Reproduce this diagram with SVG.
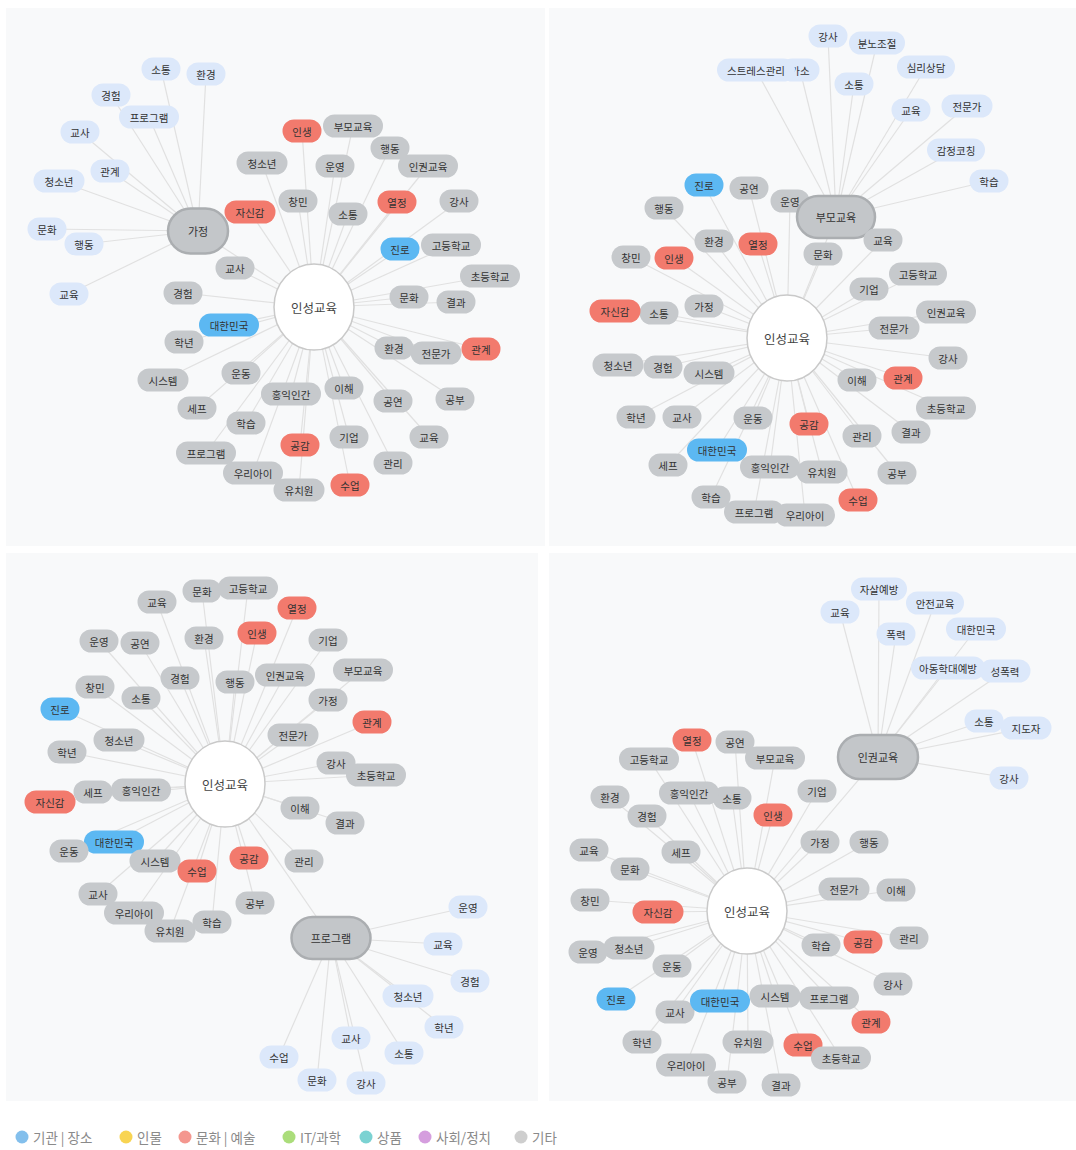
<svg xmlns="http://www.w3.org/2000/svg" width="1076" height="1150" viewBox="0 0 1076 1150">
<style>
text{font-family:"Noto Sans CJK KR","Noto Sans",sans-serif;font-size:10.5px;fill:#333;text-anchor:middle;dominant-baseline:central}
.g rect{fill:#c6c9cc}
.r rect{fill:#f27a6d}
.b rect{fill:#5cb8f2}
.l rect{fill:#dce8fa}
.h rect{fill:#c3c6c9;stroke:#abaeb1;stroke-width:2.5}
.h text{font-size:11px}
.c ellipse{fill:#fff;stroke:#c9c9c9;stroke-width:1.5}
.c text{font-size:12.5px;fill:#444}
.e line{stroke:#e1e1e1;stroke-width:1.2}
.panel{fill:#f8f9fa}
.lg text{font-size:13.5px;fill:#8a8a8a;text-anchor:start}
.lg circle{opacity:.75}
</style>
<rect width="1076" height="1150" fill="#fff"/>
<rect class="panel" x="6" y="8" width="539" height="538"/>
<rect class="panel" x="549" y="8" width="527" height="538"/>
<rect class="panel" x="6" y="553" width="532" height="548"/>
<rect class="panel" x="549" y="553" width="527" height="548"/>

<g id="connectors" class="e">
<!-- panel 1 -->
<line x1="314" y1="307" x2="302" y2="131"/><line x1="314" y1="307" x2="353" y2="126"/><line x1="314" y1="307" x2="390" y2="148"/><line x1="314" y1="307" x2="262" y2="163"/><line x1="314" y1="307" x2="335" y2="166"/><line x1="314" y1="307" x2="428" y2="166"/><line x1="314" y1="307" x2="298" y2="201"/><line x1="314" y1="307" x2="250" y2="212"/><line x1="314" y1="307" x2="348" y2="214"/><line x1="314" y1="307" x2="397" y2="202"/><line x1="314" y1="307" x2="459" y2="201"/><line x1="314" y1="307" x2="400" y2="249"/><line x1="314" y1="307" x2="451" y2="245"/><line x1="314" y1="307" x2="235" y2="268"/><line x1="314" y1="307" x2="490" y2="276"/><line x1="314" y1="307" x2="183" y2="293"/><line x1="314" y1="307" x2="409" y2="297"/><line x1="314" y1="307" x2="456" y2="302"/><line x1="314" y1="307" x2="229" y2="325"/><line x1="314" y1="307" x2="184" y2="342"/><line x1="314" y1="307" x2="394" y2="348"/><line x1="314" y1="307" x2="436" y2="353"/><line x1="314" y1="307" x2="481" y2="349"/><line x1="314" y1="307" x2="163" y2="380"/><line x1="314" y1="307" x2="241" y2="373"/><line x1="314" y1="307" x2="291" y2="394"/><line x1="314" y1="307" x2="344" y2="388"/><line x1="314" y1="307" x2="393" y2="401"/><line x1="314" y1="307" x2="455" y2="399"/><line x1="314" y1="307" x2="197" y2="408"/><line x1="314" y1="307" x2="246" y2="423"/><line x1="314" y1="307" x2="300" y2="445"/><line x1="314" y1="307" x2="349" y2="437"/><line x1="314" y1="307" x2="429" y2="437"/><line x1="314" y1="307" x2="206" y2="453"/><line x1="314" y1="307" x2="393" y2="463"/><line x1="314" y1="307" x2="253" y2="473"/><line x1="314" y1="307" x2="299" y2="490"/><line x1="314" y1="307" x2="350" y2="485"/><line x1="314" y1="307" x2="198" y2="231"/>
<line x1="198" y1="231" x2="161" y2="69"/><line x1="198" y1="231" x2="206" y2="74"/><line x1="198" y1="231" x2="111" y2="95"/><line x1="198" y1="231" x2="149" y2="117"/><line x1="198" y1="231" x2="80" y2="132"/><line x1="198" y1="231" x2="110" y2="171"/><line x1="198" y1="231" x2="59" y2="181"/><line x1="198" y1="231" x2="47" y2="229"/><line x1="198" y1="231" x2="84" y2="244"/><line x1="198" y1="231" x2="69" y2="294"/>
<!-- panel 2 -->
<line x1="787" y1="338" x2="704" y2="185"/><line x1="787" y1="338" x2="749" y2="188"/><line x1="787" y1="338" x2="790" y2="201"/><line x1="787" y1="338" x2="664" y2="208"/><line x1="787" y1="338" x2="714" y2="241"/><line x1="787" y1="338" x2="758" y2="244"/><line x1="787" y1="338" x2="883" y2="240"/><line x1="787" y1="338" x2="823" y2="254"/><line x1="787" y1="338" x2="631" y2="257"/><line x1="787" y1="338" x2="674" y2="258"/><line x1="787" y1="338" x2="918" y2="274"/><line x1="787" y1="338" x2="869" y2="289"/><line x1="787" y1="338" x2="659" y2="313"/><line x1="787" y1="338" x2="615" y2="311"/><line x1="787" y1="338" x2="704" y2="306"/><line x1="787" y1="338" x2="946" y2="312"/><line x1="787" y1="338" x2="894" y2="328"/><line x1="787" y1="338" x2="618" y2="365"/><line x1="787" y1="338" x2="663" y2="367"/><line x1="787" y1="338" x2="709" y2="373"/><line x1="787" y1="338" x2="948" y2="358"/><line x1="787" y1="338" x2="857" y2="380"/><line x1="787" y1="338" x2="903" y2="378"/><line x1="787" y1="338" x2="636" y2="417"/><line x1="787" y1="338" x2="682" y2="417"/><line x1="787" y1="338" x2="753" y2="418"/><line x1="787" y1="338" x2="809" y2="424"/><line x1="787" y1="338" x2="946" y2="408"/><line x1="787" y1="338" x2="862" y2="436"/><line x1="787" y1="338" x2="911" y2="432"/><line x1="787" y1="338" x2="717" y2="450"/><line x1="787" y1="338" x2="668" y2="465"/><line x1="787" y1="338" x2="770" y2="467"/><line x1="787" y1="338" x2="822" y2="472"/><line x1="787" y1="338" x2="897" y2="473"/><line x1="787" y1="338" x2="858" y2="500"/><line x1="787" y1="338" x2="711" y2="497"/><line x1="787" y1="338" x2="754" y2="512"/><line x1="787" y1="338" x2="805" y2="515"/><line x1="787" y1="338" x2="836" y2="217"/>
<line x1="836" y1="217" x2="828" y2="36"/><line x1="836" y1="217" x2="877" y2="43"/><line x1="836" y1="217" x2="800" y2="70"/><line x1="836" y1="217" x2="756" y2="70"/><line x1="836" y1="217" x2="854" y2="84"/><line x1="836" y1="217" x2="926" y2="67"/><line x1="836" y1="217" x2="911" y2="110"/><line x1="836" y1="217" x2="967" y2="106"/><line x1="836" y1="217" x2="956" y2="150"/><line x1="836" y1="217" x2="989" y2="181"/>
<!-- panel 3 -->
<line x1="225" y1="784" x2="157" y2="602"/><line x1="225" y1="784" x2="202" y2="591"/><line x1="225" y1="784" x2="248" y2="588"/><line x1="225" y1="784" x2="297" y2="608"/><line x1="225" y1="784" x2="99" y2="641"/><line x1="225" y1="784" x2="140" y2="643"/><line x1="225" y1="784" x2="204" y2="638"/><line x1="225" y1="784" x2="257" y2="633"/><line x1="225" y1="784" x2="328" y2="640"/><line x1="225" y1="784" x2="363" y2="670"/><line x1="225" y1="784" x2="180" y2="678"/><line x1="225" y1="784" x2="235" y2="682"/><line x1="225" y1="784" x2="285" y2="675"/><line x1="225" y1="784" x2="95" y2="687"/><line x1="225" y1="784" x2="141" y2="698"/><line x1="225" y1="784" x2="328" y2="700"/><line x1="225" y1="784" x2="60" y2="709"/><line x1="225" y1="784" x2="372" y2="722"/><line x1="225" y1="784" x2="293" y2="735"/><line x1="225" y1="784" x2="119" y2="740"/><line x1="225" y1="784" x2="67" y2="752"/><line x1="225" y1="784" x2="336" y2="763"/><line x1="225" y1="784" x2="376" y2="775"/><line x1="225" y1="784" x2="93" y2="792"/><line x1="225" y1="784" x2="141" y2="790"/><line x1="225" y1="784" x2="50" y2="802"/><line x1="225" y1="784" x2="300" y2="808"/><line x1="225" y1="784" x2="345" y2="823"/><line x1="225" y1="784" x2="69" y2="851"/><line x1="225" y1="784" x2="114" y2="842"/><line x1="225" y1="784" x2="155" y2="861"/><line x1="225" y1="784" x2="197" y2="871"/><line x1="225" y1="784" x2="249" y2="858"/><line x1="225" y1="784" x2="304" y2="861"/><line x1="225" y1="784" x2="98" y2="894"/><line x1="225" y1="784" x2="255" y2="903"/><line x1="225" y1="784" x2="134" y2="913"/><line x1="225" y1="784" x2="212" y2="922"/><line x1="225" y1="784" x2="170" y2="931"/><line x1="225" y1="784" x2="331" y2="938"/>
<line x1="331" y1="938" x2="468" y2="907"/><line x1="331" y1="938" x2="443" y2="944"/><line x1="331" y1="938" x2="470" y2="981"/><line x1="331" y1="938" x2="408" y2="996"/><line x1="331" y1="938" x2="444" y2="1027"/><line x1="331" y1="938" x2="351" y2="1038"/><line x1="331" y1="938" x2="404" y2="1053"/><line x1="331" y1="938" x2="279" y2="1057"/><line x1="331" y1="938" x2="317" y2="1080"/><line x1="331" y1="938" x2="366" y2="1083"/>
<!-- panel 4 -->
<line x1="747" y1="911" x2="692" y2="740"/><line x1="747" y1="911" x2="735" y2="742"/><line x1="747" y1="911" x2="649" y2="759"/><line x1="747" y1="911" x2="775" y2="758"/><line x1="747" y1="911" x2="610" y2="797"/><line x1="747" y1="911" x2="732" y2="798"/><line x1="747" y1="911" x2="689" y2="793"/><line x1="747" y1="911" x2="817" y2="791"/><line x1="747" y1="911" x2="647" y2="816"/><line x1="747" y1="911" x2="773" y2="815"/><line x1="747" y1="911" x2="589" y2="850"/><line x1="747" y1="911" x2="681" y2="852"/><line x1="747" y1="911" x2="820" y2="842"/><line x1="747" y1="911" x2="869" y2="842"/><line x1="747" y1="911" x2="630" y2="869"/><line x1="747" y1="911" x2="844" y2="889"/><line x1="747" y1="911" x2="896" y2="890"/><line x1="747" y1="911" x2="590" y2="900"/><line x1="747" y1="911" x2="658" y2="912"/><line x1="747" y1="911" x2="821" y2="945"/><line x1="747" y1="911" x2="863" y2="942"/><line x1="747" y1="911" x2="909" y2="938"/><line x1="747" y1="911" x2="629" y2="948"/><line x1="747" y1="911" x2="588" y2="952"/><line x1="747" y1="911" x2="672" y2="966"/><line x1="747" y1="911" x2="893" y2="984"/><line x1="747" y1="911" x2="616" y2="999"/><line x1="747" y1="911" x2="675" y2="1012"/><line x1="747" y1="911" x2="720" y2="1001"/><line x1="747" y1="911" x2="775" y2="996"/><line x1="747" y1="911" x2="829" y2="998"/><line x1="747" y1="911" x2="871" y2="1022"/><line x1="747" y1="911" x2="642" y2="1042"/><line x1="747" y1="911" x2="748" y2="1042"/><line x1="747" y1="911" x2="803" y2="1045"/><line x1="747" y1="911" x2="841" y2="1058"/><line x1="747" y1="911" x2="686" y2="1065"/><line x1="747" y1="911" x2="727" y2="1082"/><line x1="747" y1="911" x2="781" y2="1085"/><line x1="747" y1="911" x2="878" y2="757"/>
<line x1="878" y1="757" x2="879" y2="589"/><line x1="878" y1="757" x2="840" y2="612"/><line x1="878" y1="757" x2="935" y2="603"/><line x1="878" y1="757" x2="896" y2="634"/><line x1="878" y1="757" x2="976" y2="629"/><line x1="878" y1="757" x2="948" y2="668"/><line x1="878" y1="757" x2="1005" y2="671"/><line x1="878" y1="757" x2="984" y2="721"/><line x1="878" y1="757" x2="1026" y2="728"/><line x1="878" y1="757" x2="1009" y2="778"/>
</g>

<!-- ===== Panel 1 nodes ===== -->
<g id="p1-nodes">
<g id="p1-s1" class="l"><rect x="141.5" y="57.5" width="39" height="23" rx="11.5"/><text x="161" y="69">소통</text></g>
<g id="p1-s2" class="l"><rect x="186.5" y="62.5" width="39" height="23" rx="11.5"/><text x="206" y="74">환경</text></g>
<g id="p1-s3" class="l"><rect x="91.5" y="83.5" width="39" height="23" rx="11.5"/><text x="111" y="95">경험</text></g>
<g id="p1-s4" class="l"><rect x="119" y="105.5" width="60" height="23" rx="11.5"/><text x="149" y="117">프로그램</text></g>
<g id="p1-s5" class="l"><rect x="60.5" y="120.5" width="39" height="23" rx="11.5"/><text x="80" y="132">교사</text></g>
<g id="p1-s6" class="l"><rect x="90.5" y="159.5" width="39" height="23" rx="11.5"/><text x="110" y="171">관계</text></g>
<g id="p1-s7" class="l"><rect x="33.5" y="169.5" width="51" height="23" rx="11.5"/><text x="59" y="181">청소년</text></g>
<g id="p1-s8" class="l"><rect x="27.5" y="217.5" width="39" height="23" rx="11.5"/><text x="47" y="229">문화</text></g>
<g id="p1-s9" class="l"><rect x="64.5" y="232.5" width="39" height="23" rx="11.5"/><text x="84" y="244">행동</text></g>
<g id="p1-s10" class="l"><rect x="49.5" y="282.5" width="39" height="23" rx="11.5"/><text x="69" y="294">교육</text></g>
<g id="p1-hub" class="h"><rect x="168" y="208.5" width="60" height="45" rx="22.5"/><text x="198" y="231">가정</text></g>
<g id="p1-n1" class="r"><rect x="282.5" y="119.5" width="39" height="23" rx="11.5"/><text x="302" y="131">인생</text></g>
<g id="p1-n2" class="g"><rect x="323" y="114.5" width="60" height="23" rx="11.5"/><text x="353" y="126">부모교육</text></g>
<g id="p1-n3" class="g"><rect x="370.5" y="136.5" width="39" height="23" rx="11.5"/><text x="390" y="148">행동</text></g>
<g id="p1-n4" class="g"><rect x="236.5" y="151.5" width="51" height="23" rx="11.5"/><text x="262" y="163">청소년</text></g>
<g id="p1-n5" class="g"><rect x="315.5" y="154.5" width="39" height="23" rx="11.5"/><text x="335" y="166">운영</text></g>
<g id="p1-n6" class="g"><rect x="398" y="154.5" width="60" height="23" rx="11.5"/><text x="428" y="166">인권교육</text></g>
<g id="p1-n7" class="g"><rect x="278.5" y="189.5" width="39" height="23" rx="11.5"/><text x="298" y="201">창민</text></g>
<g id="p1-n8" class="r"><rect x="224.5" y="200.5" width="51" height="23" rx="11.5"/><text x="250" y="212">자신감</text></g>
<g id="p1-n9" class="g"><rect x="328.5" y="202.5" width="39" height="23" rx="11.5"/><text x="348" y="214">소통</text></g>
<g id="p1-n10" class="r"><rect x="377.5" y="190.5" width="39" height="23" rx="11.5"/><text x="397" y="202">열정</text></g>
<g id="p1-n11" class="g"><rect x="439.5" y="189.5" width="39" height="23" rx="11.5"/><text x="459" y="201">강사</text></g>
<g id="p1-n12" class="b"><rect x="380.5" y="237.5" width="39" height="23" rx="11.5"/><text x="400" y="249">진로</text></g>
<g id="p1-n13" class="g"><rect x="421" y="233.5" width="60" height="23" rx="11.5"/><text x="451" y="245">고등학교</text></g>
<g id="p1-n14" class="g"><rect x="215.5" y="256.5" width="39" height="23" rx="11.5"/><text x="235" y="268">교사</text></g>
<g id="p1-n15" class="g"><rect x="460" y="264.5" width="60" height="23" rx="11.5"/><text x="490" y="276">초등학교</text></g>
<g id="p1-n16" class="g"><rect x="163.5" y="281.5" width="39" height="23" rx="11.5"/><text x="183" y="293">경험</text></g>
<g id="p1-n17" class="g"><rect x="389.5" y="285.5" width="39" height="23" rx="11.5"/><text x="409" y="297">문화</text></g>
<g id="p1-n18" class="g"><rect x="436.5" y="290.5" width="39" height="23" rx="11.5"/><text x="456" y="302">결과</text></g>
<g id="p1-n19" class="b"><rect x="199" y="313.5" width="60" height="23" rx="11.5"/><text x="229" y="325">대한민국</text></g>
<g id="p1-n20" class="g"><rect x="164.5" y="330.5" width="39" height="23" rx="11.5"/><text x="184" y="342">학년</text></g>
<g id="p1-n21" class="g"><rect x="374.5" y="336.5" width="39" height="23" rx="11.5"/><text x="394" y="348">환경</text></g>
<g id="p1-n22" class="g"><rect x="410.5" y="341.5" width="51" height="23" rx="11.5"/><text x="436" y="353">전문가</text></g>
<g id="p1-n23" class="r"><rect x="461.5" y="337.5" width="39" height="23" rx="11.5"/><text x="481" y="349">관계</text></g>
<g id="p1-n24" class="g"><rect x="137.5" y="368.5" width="51" height="23" rx="11.5"/><text x="163" y="380">시스템</text></g>
<g id="p1-n25" class="g"><rect x="221.5" y="361.5" width="39" height="23" rx="11.5"/><text x="241" y="373">운동</text></g>
<g id="p1-n26" class="g"><rect x="261" y="382.5" width="60" height="23" rx="11.5"/><text x="291" y="394">홍익인간</text></g>
<g id="p1-n27" class="g"><rect x="324.5" y="376.5" width="39" height="23" rx="11.5"/><text x="344" y="388">이해</text></g>
<g id="p1-n28" class="g"><rect x="373.5" y="389.5" width="39" height="23" rx="11.5"/><text x="393" y="401">공연</text></g>
<g id="p1-n29" class="g"><rect x="435.5" y="387.5" width="39" height="23" rx="11.5"/><text x="455" y="399">공부</text></g>
<g id="p1-n30" class="g"><rect x="177.5" y="396.5" width="39" height="23" rx="11.5"/><text x="197" y="408">세프</text></g>
<g id="p1-n31" class="g"><rect x="226.5" y="411.5" width="39" height="23" rx="11.5"/><text x="246" y="423">학습</text></g>
<g id="p1-n32" class="r"><rect x="280.5" y="433.5" width="39" height="23" rx="11.5"/><text x="300" y="445">공감</text></g>
<g id="p1-n33" class="g"><rect x="329.5" y="425.5" width="39" height="23" rx="11.5"/><text x="349" y="437">기업</text></g>
<g id="p1-n34" class="g"><rect x="409.5" y="425.5" width="39" height="23" rx="11.5"/><text x="429" y="437">교육</text></g>
<g id="p1-n35" class="g"><rect x="176" y="441.5" width="60" height="23" rx="11.5"/><text x="206" y="453">프로그램</text></g>
<g id="p1-n36" class="g"><rect x="373.5" y="451.5" width="39" height="23" rx="11.5"/><text x="393" y="463">관리</text></g>
<g id="p1-n37" class="g"><rect x="223" y="461.5" width="60" height="23" rx="11.5"/><text x="253" y="473">우리아이</text></g>
<g id="p1-n38" class="g"><rect x="273.5" y="478.5" width="51" height="23" rx="11.5"/><text x="299" y="490">유치원</text></g>
<g id="p1-n39" class="r"><rect x="330.5" y="473.5" width="39" height="23" rx="11.5"/><text x="350" y="485">수업</text></g>
<g id="p1-center" class="c"><ellipse cx="314" cy="307" rx="40" ry="43"/><text x="314" y="307">인성교육</text></g>
</g>

<!-- ===== Panel 2 nodes ===== -->
<g id="p2-nodes">
<g id="p2-s1" class="l"><rect x="808.5" y="24.5" width="39" height="23" rx="11.5"/><text x="828" y="36">강사</text></g>
<g id="p2-s2" class="l"><rect x="849" y="31.5" width="56" height="23" rx="11.5"/><text x="877" y="43">분노조절</text></g>
<g id="p2-s3" class="l"><rect x="780.5" y="58.5" width="39" height="23" rx="11.5"/><text x="800" y="70">가소</text></g>
<g id="p2-s4" class="l"><rect x="717" y="58.5" width="78" height="23" rx="11.5"/><text x="756" y="70">스트레스관리</text></g>
<g id="p2-s5" class="l"><rect x="834.5" y="72.5" width="39" height="23" rx="11.5"/><text x="854" y="84">소통</text></g>
<g id="p2-s6" class="l"><rect x="897" y="55.5" width="58" height="23" rx="11.5"/><text x="926" y="67">심리상담</text></g>
<g id="p2-s7" class="l"><rect x="891.5" y="98.5" width="39" height="23" rx="11.5"/><text x="911" y="110">교육</text></g>
<g id="p2-s8" class="l"><rect x="941.5" y="94.5" width="51" height="23" rx="11.5"/><text x="967" y="106">전문가</text></g>
<g id="p2-s9" class="l"><rect x="927" y="138.5" width="58" height="23" rx="11.5"/><text x="956" y="150">감정코칭</text></g>
<g id="p2-s10" class="l"><rect x="969.5" y="169.5" width="39" height="23" rx="11.5"/><text x="989" y="181">학습</text></g>
<g id="p2-n1" class="b"><rect x="684.5" y="173.5" width="39" height="23" rx="11.5"/><text x="704" y="185">진로</text></g>
<g id="p2-n2" class="g"><rect x="729.5" y="176.5" width="39" height="23" rx="11.5"/><text x="749" y="188">공연</text></g>
<g id="p2-n3" class="g"><rect x="770.5" y="189.5" width="39" height="23" rx="11.5"/><text x="790" y="201">운영</text></g>
<g id="p2-hub" class="h"><rect x="797" y="196" width="78" height="42" rx="21"/><text x="836" y="217">부모교육</text></g>
<g id="p2-n4" class="g"><rect x="644.5" y="196.5" width="39" height="23" rx="11.5"/><text x="664" y="208">행동</text></g>
<g id="p2-n5" class="g"><rect x="694.5" y="229.5" width="39" height="23" rx="11.5"/><text x="714" y="241">환경</text></g>
<g id="p2-n6" class="r"><rect x="738.5" y="232.5" width="39" height="23" rx="11.5"/><text x="758" y="244">열정</text></g>
<g id="p2-n7" class="g"><rect x="863.5" y="228.5" width="39" height="23" rx="11.5"/><text x="883" y="240">교육</text></g>
<g id="p2-n8" class="g"><rect x="803.5" y="242.5" width="39" height="23" rx="11.5"/><text x="823" y="254">문화</text></g>
<g id="p2-n9" class="g"><rect x="611.5" y="245.5" width="39" height="23" rx="11.5"/><text x="631" y="257">창민</text></g>
<g id="p2-n10" class="r"><rect x="654.5" y="246.5" width="39" height="23" rx="11.5"/><text x="674" y="258">인생</text></g>
<g id="p2-n11" class="g"><rect x="889" y="262.5" width="58" height="23" rx="11.5"/><text x="918" y="274">고등학교</text></g>
<g id="p2-n12" class="g"><rect x="849.5" y="277.5" width="39" height="23" rx="11.5"/><text x="869" y="289">기업</text></g>
<g id="p2-n13" class="g"><rect x="639.5" y="301.5" width="39" height="23" rx="11.5"/><text x="659" y="313">소통</text></g>
<g id="p2-n14" class="r"><rect x="589.5" y="299.5" width="51" height="23" rx="11.5"/><text x="615" y="311">자신감</text></g>
<g id="p2-n15" class="g"><rect x="684.5" y="294.5" width="39" height="23" rx="11.5"/><text x="704" y="306">가정</text></g>
<g id="p2-n16" class="g"><rect x="916" y="300.5" width="60" height="23" rx="11.5"/><text x="946" y="312">인권교육</text></g>
<g id="p2-n17" class="g"><rect x="868.5" y="316.5" width="51" height="23" rx="11.5"/><text x="894" y="328">전문가</text></g>
<g id="p2-n18" class="g"><rect x="592.5" y="353.5" width="51" height="23" rx="11.5"/><text x="618" y="365">청소년</text></g>
<g id="p2-n19" class="g"><rect x="643.5" y="355.5" width="39" height="23" rx="11.5"/><text x="663" y="367">경험</text></g>
<g id="p2-n20" class="g"><rect x="683.5" y="361.5" width="51" height="23" rx="11.5"/><text x="709" y="373">시스템</text></g>
<g id="p2-n21" class="g"><rect x="928.5" y="346.5" width="39" height="23" rx="11.5"/><text x="948" y="358">강사</text></g>
<g id="p2-n22" class="g"><rect x="837.5" y="368.5" width="39" height="23" rx="11.5"/><text x="857" y="380">이해</text></g>
<g id="p2-n23" class="r"><rect x="883.5" y="366.5" width="39" height="23" rx="11.5"/><text x="903" y="378">관계</text></g>
<g id="p2-n24" class="g"><rect x="616.5" y="405.5" width="39" height="23" rx="11.5"/><text x="636" y="417">학년</text></g>
<g id="p2-n25" class="g"><rect x="662.5" y="405.5" width="39" height="23" rx="11.5"/><text x="682" y="417">교사</text></g>
<g id="p2-n26" class="g"><rect x="733.5" y="406.5" width="39" height="23" rx="11.5"/><text x="753" y="418">운동</text></g>
<g id="p2-n27" class="r"><rect x="789.5" y="412.5" width="39" height="23" rx="11.5"/><text x="809" y="424">공감</text></g>
<g id="p2-n28" class="g"><rect x="916" y="396.5" width="60" height="23" rx="11.5"/><text x="946" y="408">초등학교</text></g>
<g id="p2-n29" class="g"><rect x="842.5" y="424.5" width="39" height="23" rx="11.5"/><text x="862" y="436">관리</text></g>
<g id="p2-n30" class="g"><rect x="891.5" y="420.5" width="39" height="23" rx="11.5"/><text x="911" y="432">결과</text></g>
<g id="p2-n31" class="b"><rect x="687" y="438.5" width="60" height="23" rx="11.5"/><text x="717" y="450">대한민국</text></g>
<g id="p2-n32" class="g"><rect x="648.5" y="453.5" width="39" height="23" rx="11.5"/><text x="668" y="465">세프</text></g>
<g id="p2-n33" class="g"><rect x="740" y="455.5" width="60" height="23" rx="11.5"/><text x="770" y="467">홍익인간</text></g>
<g id="p2-n34" class="g"><rect x="796.5" y="460.5" width="51" height="23" rx="11.5"/><text x="822" y="472">유치원</text></g>
<g id="p2-n35" class="g"><rect x="877.5" y="461.5" width="39" height="23" rx="11.5"/><text x="897" y="473">공부</text></g>
<g id="p2-n36" class="r"><rect x="838.5" y="488.5" width="39" height="23" rx="11.5"/><text x="858" y="500">수업</text></g>
<g id="p2-n37" class="g"><rect x="691.5" y="485.5" width="39" height="23" rx="11.5"/><text x="711" y="497">학습</text></g>
<g id="p2-n38" class="g"><rect x="724" y="500.5" width="60" height="23" rx="11.5"/><text x="754" y="512">프로그램</text></g>
<g id="p2-n39" class="g"><rect x="775" y="503.5" width="60" height="23" rx="11.5"/><text x="805" y="515">우리아이</text></g>
<g id="p2-center" class="c"><ellipse cx="787" cy="338" rx="40" ry="43"/><text x="787" y="338">인성교육</text></g>
</g>

<!-- ===== Panel 3 nodes ===== -->
<g id="p3-nodes">
<g id="p3-n1" class="g"><rect x="137.5" y="590.5" width="39" height="23" rx="11.5"/><text x="157" y="602">교육</text></g>
<g id="p3-n2" class="g"><rect x="182.5" y="579.5" width="39" height="23" rx="11.5"/><text x="202" y="591">문화</text></g>
<g id="p3-n3" class="g"><rect x="218" y="576.5" width="60" height="23" rx="11.5"/><text x="248" y="588">고등학교</text></g>
<g id="p3-n4" class="r"><rect x="277.5" y="596.5" width="39" height="23" rx="11.5"/><text x="297" y="608">열정</text></g>
<g id="p3-n5" class="g"><rect x="79.5" y="629.5" width="39" height="23" rx="11.5"/><text x="99" y="641">운영</text></g>
<g id="p3-n6" class="g"><rect x="120.5" y="631.5" width="39" height="23" rx="11.5"/><text x="140" y="643">공연</text></g>
<g id="p3-n7" class="g"><rect x="184.5" y="626.5" width="39" height="23" rx="11.5"/><text x="204" y="638">환경</text></g>
<g id="p3-n8" class="r"><rect x="237.5" y="621.5" width="39" height="23" rx="11.5"/><text x="257" y="633">인생</text></g>
<g id="p3-n9" class="g"><rect x="308.5" y="628.5" width="39" height="23" rx="11.5"/><text x="328" y="640">기업</text></g>
<g id="p3-n10" class="g"><rect x="333" y="658.5" width="60" height="23" rx="11.5"/><text x="363" y="670">부모교육</text></g>
<g id="p3-n11" class="g"><rect x="160.5" y="666.5" width="39" height="23" rx="11.5"/><text x="180" y="678">경험</text></g>
<g id="p3-n12" class="g"><rect x="215.5" y="670.5" width="39" height="23" rx="11.5"/><text x="235" y="682">행동</text></g>
<g id="p3-n13" class="g"><rect x="255" y="663.5" width="60" height="23" rx="11.5"/><text x="285" y="675">인권교육</text></g>
<g id="p3-n14" class="g"><rect x="75.5" y="675.5" width="39" height="23" rx="11.5"/><text x="95" y="687">창민</text></g>
<g id="p3-n15" class="g"><rect x="121.5" y="686.5" width="39" height="23" rx="11.5"/><text x="141" y="698">소통</text></g>
<g id="p3-n16" class="g"><rect x="308.5" y="688.5" width="39" height="23" rx="11.5"/><text x="328" y="700">가정</text></g>
<g id="p3-n17" class="b"><rect x="40.5" y="697.5" width="39" height="23" rx="11.5"/><text x="60" y="709">진로</text></g>
<g id="p3-n18" class="r"><rect x="352.5" y="710.5" width="39" height="23" rx="11.5"/><text x="372" y="722">관계</text></g>
<g id="p3-n19" class="g"><rect x="267.5" y="723.5" width="51" height="23" rx="11.5"/><text x="293" y="735">전문가</text></g>
<g id="p3-n20" class="g"><rect x="93.5" y="728.5" width="51" height="23" rx="11.5"/><text x="119" y="740">청소년</text></g>
<g id="p3-n21" class="g"><rect x="47.5" y="740.5" width="39" height="23" rx="11.5"/><text x="67" y="752">학년</text></g>
<g id="p3-n22" class="g"><rect x="316.5" y="751.5" width="39" height="23" rx="11.5"/><text x="336" y="763">강사</text></g>
<g id="p3-n23" class="g"><rect x="346" y="763.5" width="60" height="23" rx="11.5"/><text x="376" y="775">초등학교</text></g>
<g id="p3-n24" class="g"><rect x="73.5" y="780.5" width="39" height="23" rx="11.5"/><text x="93" y="792">세프</text></g>
<g id="p3-n25" class="g"><rect x="111" y="778.5" width="60" height="23" rx="11.5"/><text x="141" y="790">홍익인간</text></g>
<g id="p3-n26" class="r"><rect x="24.5" y="790.5" width="51" height="23" rx="11.5"/><text x="50" y="802">자신감</text></g>
<g id="p3-n27" class="g"><rect x="280.5" y="796.5" width="39" height="23" rx="11.5"/><text x="300" y="808">이해</text></g>
<g id="p3-n28" class="g"><rect x="325.5" y="811.5" width="39" height="23" rx="11.5"/><text x="345" y="823">결과</text></g>
<g id="p3-n29" class="b"><rect x="84" y="830.5" width="60" height="23" rx="11.5"/><text x="114" y="842">대한민국</text></g>
<g id="p3-n30" class="g"><rect x="49.5" y="839.5" width="39" height="23" rx="11.5"/><text x="69" y="851">운동</text></g>
<g id="p3-n31" class="g"><rect x="129.5" y="849.5" width="51" height="23" rx="11.5"/><text x="155" y="861">시스템</text></g>
<g id="p3-n32" class="r"><rect x="177.5" y="859.5" width="39" height="23" rx="11.5"/><text x="197" y="871">수업</text></g>
<g id="p3-n33" class="r"><rect x="229.5" y="846.5" width="39" height="23" rx="11.5"/><text x="249" y="858">공감</text></g>
<g id="p3-n34" class="g"><rect x="284.5" y="849.5" width="39" height="23" rx="11.5"/><text x="304" y="861">관리</text></g>
<g id="p3-n35" class="g"><rect x="78.5" y="882.5" width="39" height="23" rx="11.5"/><text x="98" y="894">교사</text></g>
<g id="p3-n36" class="g"><rect x="235.5" y="891.5" width="39" height="23" rx="11.5"/><text x="255" y="903">공부</text></g>
<g id="p3-n37" class="g"><rect x="104" y="901.5" width="60" height="23" rx="11.5"/><text x="134" y="913">우리아이</text></g>
<g id="p3-n38" class="g"><rect x="192.5" y="910.5" width="39" height="23" rx="11.5"/><text x="212" y="922">학습</text></g>
<g id="p3-n39" class="g"><rect x="144.5" y="919.5" width="51" height="23" rx="11.5"/><text x="170" y="931">유치원</text></g>
<g id="p3-center" class="c"><ellipse cx="225" cy="784" rx="40" ry="43"/><text x="225" y="784">인성교육</text></g>
<g id="p3-hub" class="h"><rect x="291.5" y="917" width="79" height="42" rx="21"/><text x="331" y="938">프로그램</text></g>
<g id="p3-s1" class="l"><rect x="448.5" y="895.5" width="39" height="23" rx="11.5"/><text x="468" y="907">운영</text></g>
<g id="p3-s2" class="l"><rect x="423.5" y="932.5" width="39" height="23" rx="11.5"/><text x="443" y="944">교육</text></g>
<g id="p3-s3" class="l"><rect x="450.5" y="969.5" width="39" height="23" rx="11.5"/><text x="470" y="981">경험</text></g>
<g id="p3-s4" class="l"><rect x="382.5" y="984.5" width="51" height="23" rx="11.5"/><text x="408" y="996">청소년</text></g>
<g id="p3-s5" class="l"><rect x="424.5" y="1015.5" width="39" height="23" rx="11.5"/><text x="444" y="1027">학년</text></g>
<g id="p3-s6" class="l"><rect x="331.5" y="1026.5" width="39" height="23" rx="11.5"/><text x="351" y="1038">교사</text></g>
<g id="p3-s7" class="l"><rect x="384.5" y="1041.5" width="39" height="23" rx="11.5"/><text x="404" y="1053">소통</text></g>
<g id="p3-s8" class="l"><rect x="259.5" y="1045.5" width="39" height="23" rx="11.5"/><text x="279" y="1057">수업</text></g>
<g id="p3-s9" class="l"><rect x="297.5" y="1068.5" width="39" height="23" rx="11.5"/><text x="317" y="1080">문화</text></g>
<g id="p3-s10" class="l"><rect x="346.5" y="1071.5" width="39" height="23" rx="11.5"/><text x="366" y="1083">강사</text></g>
</g>

<!-- ===== Panel 4 nodes ===== -->
<g id="p4-nodes">
<g id="p4-s1" class="l"><rect x="851" y="577.5" width="56" height="23" rx="11.5"/><text x="879" y="589">자살예방</text></g>
<g id="p4-s2" class="l"><rect x="820.5" y="600.5" width="39" height="23" rx="11.5"/><text x="840" y="612">교육</text></g>
<g id="p4-s3" class="l"><rect x="906" y="591.5" width="58" height="23" rx="11.5"/><text x="935" y="603">안전교육</text></g>
<g id="p4-s4" class="l"><rect x="876.5" y="622.5" width="39" height="23" rx="11.5"/><text x="896" y="634">폭력</text></g>
<g id="p4-s5" class="l"><rect x="946" y="617.5" width="60" height="23" rx="11.5"/><text x="976" y="629">대한민국</text></g>
<g id="p4-s6" class="l"><rect x="911" y="656.5" width="74" height="23" rx="11.5"/><text x="948" y="668">아동학대예방</text></g>
<g id="p4-s7" class="l"><rect x="979.5" y="659.5" width="51" height="23" rx="11.5"/><text x="1005" y="671">성폭력</text></g>
<g id="p4-s8" class="l"><rect x="964.5" y="709.5" width="39" height="23" rx="11.5"/><text x="984" y="721">소통</text></g>
<g id="p4-s9" class="l"><rect x="1000.5" y="716.5" width="51" height="23" rx="11.5"/><text x="1026" y="728">지도자</text></g>
<g id="p4-s10" class="l"><rect x="989.5" y="766.5" width="39" height="23" rx="11.5"/><text x="1009" y="778">강사</text></g>
<g id="p4-hub" class="h"><rect x="838" y="735" width="80" height="44" rx="22"/><text x="878" y="757">인권교육</text></g>
<g id="p4-n1" class="r"><rect x="672.5" y="728.5" width="39" height="23" rx="11.5"/><text x="692" y="740">열정</text></g>
<g id="p4-n2" class="g"><rect x="715.5" y="730.5" width="39" height="23" rx="11.5"/><text x="735" y="742">공연</text></g>
<g id="p4-n3" class="g"><rect x="619" y="747.5" width="60" height="23" rx="11.5"/><text x="649" y="759">고등학교</text></g>
<g id="p4-n4" class="g"><rect x="745" y="746.5" width="60" height="23" rx="11.5"/><text x="775" y="758">부모교육</text></g>
<g id="p4-n5" class="g"><rect x="590.5" y="785.5" width="39" height="23" rx="11.5"/><text x="610" y="797">환경</text></g>
<g id="p4-n6" class="g"><rect x="712.5" y="786.5" width="39" height="23" rx="11.5"/><text x="732" y="798">소통</text></g>
<g id="p4-n7" class="g"><rect x="659" y="781.5" width="60" height="23" rx="11.5"/><text x="689" y="793">홍익인간</text></g>
<g id="p4-n8" class="g"><rect x="797.5" y="779.5" width="39" height="23" rx="11.5"/><text x="817" y="791">기업</text></g>
<g id="p4-n9" class="g"><rect x="627.5" y="804.5" width="39" height="23" rx="11.5"/><text x="647" y="816">경험</text></g>
<g id="p4-n10" class="r"><rect x="753.5" y="803.5" width="39" height="23" rx="11.5"/><text x="773" y="815">인생</text></g>
<g id="p4-n11" class="g"><rect x="569.5" y="838.5" width="39" height="23" rx="11.5"/><text x="589" y="850">교육</text></g>
<g id="p4-n12" class="g"><rect x="661.5" y="840.5" width="39" height="23" rx="11.5"/><text x="681" y="852">세프</text></g>
<g id="p4-n13" class="g"><rect x="800.5" y="830.5" width="39" height="23" rx="11.5"/><text x="820" y="842">가정</text></g>
<g id="p4-n14" class="g"><rect x="849.5" y="830.5" width="39" height="23" rx="11.5"/><text x="869" y="842">행동</text></g>
<g id="p4-n15" class="g"><rect x="610.5" y="857.5" width="39" height="23" rx="11.5"/><text x="630" y="869">문화</text></g>
<g id="p4-n16" class="g"><rect x="818.5" y="877.5" width="51" height="23" rx="11.5"/><text x="844" y="889">전문가</text></g>
<g id="p4-n17" class="g"><rect x="876.5" y="878.5" width="39" height="23" rx="11.5"/><text x="896" y="890">이해</text></g>
<g id="p4-n18" class="g"><rect x="570.5" y="888.5" width="39" height="23" rx="11.5"/><text x="590" y="900">창민</text></g>
<g id="p4-n19" class="r"><rect x="632.5" y="900.5" width="51" height="23" rx="11.5"/><text x="658" y="912">자신감</text></g>
<g id="p4-n20" class="g"><rect x="801.5" y="933.5" width="39" height="23" rx="11.5"/><text x="821" y="945">학습</text></g>
<g id="p4-n21" class="r"><rect x="843.5" y="930.5" width="39" height="23" rx="11.5"/><text x="863" y="942">공감</text></g>
<g id="p4-n22" class="g"><rect x="889.5" y="926.5" width="39" height="23" rx="11.5"/><text x="909" y="938">관리</text></g>
<g id="p4-n23" class="g"><rect x="603.5" y="936.5" width="51" height="23" rx="11.5"/><text x="629" y="948">청소년</text></g>
<g id="p4-n24" class="g"><rect x="568.5" y="940.5" width="39" height="23" rx="11.5"/><text x="588" y="952">운영</text></g>
<g id="p4-n25" class="g"><rect x="652.5" y="954.5" width="39" height="23" rx="11.5"/><text x="672" y="966">운동</text></g>
<g id="p4-n26" class="g"><rect x="873.5" y="972.5" width="39" height="23" rx="11.5"/><text x="893" y="984">강사</text></g>
<g id="p4-n27" class="b"><rect x="596.5" y="987.5" width="39" height="23" rx="11.5"/><text x="616" y="999">진로</text></g>
<g id="p4-n28" class="g"><rect x="655.5" y="1000.5" width="39" height="23" rx="11.5"/><text x="675" y="1012">교사</text></g>
<g id="p4-n29" class="b"><rect x="690" y="989.5" width="60" height="23" rx="11.5"/><text x="720" y="1001">대한민국</text></g>
<g id="p4-n30" class="g"><rect x="749.5" y="984.5" width="51" height="23" rx="11.5"/><text x="775" y="996">시스템</text></g>
<g id="p4-n31" class="g"><rect x="799" y="986.5" width="60" height="23" rx="11.5"/><text x="829" y="998">프로그램</text></g>
<g id="p4-n32" class="r"><rect x="851.5" y="1010.5" width="39" height="23" rx="11.5"/><text x="871" y="1022">관계</text></g>
<g id="p4-n33" class="g"><rect x="622.5" y="1030.5" width="39" height="23" rx="11.5"/><text x="642" y="1042">학년</text></g>
<g id="p4-n34" class="g"><rect x="722.5" y="1030.5" width="51" height="23" rx="11.5"/><text x="748" y="1042">유치원</text></g>
<g id="p4-n35" class="r"><rect x="783.5" y="1033.5" width="39" height="23" rx="11.5"/><text x="803" y="1045">수업</text></g>
<g id="p4-n36" class="g"><rect x="811" y="1046.5" width="60" height="23" rx="11.5"/><text x="841" y="1058">초등학교</text></g>
<g id="p4-n37" class="g"><rect x="656" y="1053.5" width="60" height="23" rx="11.5"/><text x="686" y="1065">우리아이</text></g>
<g id="p4-n38" class="g"><rect x="707.5" y="1070.5" width="39" height="23" rx="11.5"/><text x="727" y="1082">공부</text></g>
<g id="p4-n39" class="g"><rect x="761.5" y="1073.5" width="39" height="23" rx="11.5"/><text x="781" y="1085">결과</text></g>
<g id="p4-center" class="c"><ellipse cx="747" cy="911" rx="40" ry="43"/><text x="747" y="911">인성교육</text></g>
</g>

<!-- legend -->
<g id="legend" class="lg">
<circle cx="22" cy="1137" r="6.5" fill="#5aa9e6"/><text x="33" y="1137" dominant-baseline="central">기관 | 장소</text>
<circle cx="126" cy="1137" r="6.5" fill="#f5c518"/><text x="137" y="1137" dominant-baseline="central">인물</text>
<circle cx="185" cy="1137" r="6.5" fill="#f0746a"/><text x="196" y="1137" dominant-baseline="central">문화 | 예술</text>
<circle cx="289" cy="1137" r="6.5" fill="#8fd14f"/><text x="300" y="1137" dominant-baseline="central">IT/과학</text>
<circle cx="366" cy="1137" r="6.5" fill="#4fc3c3"/><text x="377" y="1137" dominant-baseline="central">상품</text>
<circle cx="425" cy="1137" r="6.5" fill="#c77dd3"/><text x="436" y="1137" dominant-baseline="central">사회/정치</text>
<circle cx="521" cy="1137" r="6.5" fill="#bdbdbd"/><text x="532" y="1137" dominant-baseline="central">기타</text>
</g>
</svg>
